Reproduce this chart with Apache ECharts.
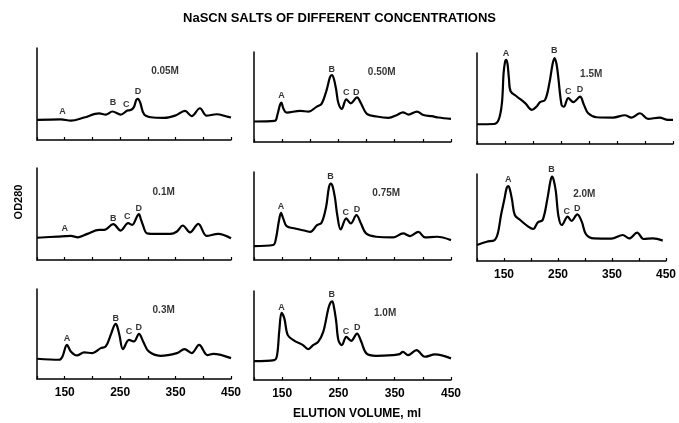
<!DOCTYPE html>
<html>
<head>
<meta charset="utf-8">
<script src="https://cdn.jsdelivr.net/npm/echarts@6/dist/echarts.min.js"></script>
<style>
  html, body { margin: 0; padding: 0; background: #fff; }
  #chart { width: 679px; height: 423px; }
</style>
</head>
<body>
<div id="chart"></div>
<script>
// elution volume (ml), OD280 in relative units (0-100 = height of the y axis)
const conc = ['0.05M', '0.50M', '1.5M', '0.1M', '0.75M', '2.0M', '0.3M', '1.0M']
const peakNames = ['A', 'B', 'C', 'D']
const xTicks = [150, 250, 350, 450]

const trace005 = [[100,21.8],[143,22.5],[161,21],[185,24.4],[212,29],[224,27.6],[236,31],[251,27.6],[263,32],[269,32.5],[275,36],[279,43.5],[282,44.7],[286,41],[293,28],[305,24.7],[329,24],[349,26.5],[367,31.6],[379,26],[394,34.5],[406,26.5],[424,28],[442,25.5],[450,24.4]]
const trace050 = [[100,22.8],[137,23.5],[141.5,30],[146,41],[148.6,43.8],[152,37.5],[158,32.7],[182,34.6],[197,33.8],[211.5,39.3],[220,42.3],[229,57.7],[235,72],[238.5,74.3],[242,70],[246,58],[250,43],[256,36.8],[264,47.4],[272,43],[283,49.6],[290,43],[300.5,31.3],[318,28.3],[339,26.8],[354,30],[364.5,33],[374.6,30.5],[389.5,33.8],[401,30],[416,28.7],[428,27.2],[450,25.7]]
const trace15 = [[100,21.7],[129.7,22],[138.6,26.5],[144.5,44.9],[147.5,78],[150,90],[152,92.6],[154.5,88],[157,72],[160,58],[171,52.2],[186,44.9],[198,37.5],[206,41],[212.7,46],[221.6,48.5],[229.3,67],[235,88],[238.5,94.5],[242,88],[245,74],[251,43],[255,41],[263,50.4],[272,46],[284,52],[291,43],[298.6,33.8],[313.6,29.4],[343,29],[364,31.6],[376,29],[391,33.8],[405.5,27.6],[426,29],[441,26.5],[450,26.5]]
const trace01 = [[100,24.2],[137,25.5],[161,26.2],[174,24.7],[191,28.4],[212,32.7],[221,32.7],[237.6,38.9],[251,32],[264.5,40],[271.7,38.2],[281,48],[284,49.8],[287,45],[291,38.2],[298.6,29],[316.6,28.4],[340.5,28.4],[352.5,31],[363,37.5],[376,30],[391,39.3],[406,26.2],[427,28.4],[450,23.6]]
const trace075 = [[100,15.8],[134,17],[139,24.5],[144,43.4],[148,53.6],[152,47],[158,38.5],[173,35.8],[191,33.2],[200,32],[212,39.6],[220,42.3],[228,60],[233,82],[236.5,86.8],[240,83],[244,70],[248,50.9],[254,34.7],[264,47.2],[272,41.5],[282,50.9],[290,41.5],[299,30.2],[317,26.4],[347,25.7],[365,30.2],[377,27.2],[392,32],[404,25.7],[425,26.4],[450,22.6]]
const trace20 = [[100,18.4],[118,22.2],[132.6,24.1],[138.6,31.8],[144.5,52.9],[150.4,70],[155,84],[158,86.2],[161,82],[165,70],[170,52.9],[180,47.1],[195,39.5],[204,36.8],[212.7,44.4],[221.6,47.1],[230.5,72],[236,92],[239,96.9],[242,93],[246,80],[251,51],[257,41.4],[268,51],[275,46],[285.7,53.6],[294,45.2],[301.7,31],[316.5,26],[349,25.7],[370,29.9],[381.8,26],[396.6,32.6],[408.5,25.3],[426,26],[444,23.4]]
const trace03 = [[100,22.5],[140,21.4],[146,25.1],[154,38],[161,30.6],[172,26.2],[185,29.5],[200,28.8],[215,34.3],[224,36.2],[233,49],[239,59],[242,61.3],[245,58],[249,48],[255,33.2],[266,43.5],[275,41.7],[284,50.2],[291.5,41.7],[301.6,30.6],[322.6,25.8],[352.5,28.8],[366,33.2],[379,28.8],[392.5,38],[407.5,26.6],[418,28],[450,23.2]]
const trace10 = [[100,21.3],[136,22.4],[141,28],[145,56],[149,75.4],[154,69],[160,50.4],[172,44],[187,39.2],[196,34.7],[205,39.2],[214,42.9],[223,54],[232,80],[236,87],[239,88.4],[242,82],[246,66],[250,44.8],[256,39.2],[264,48.5],[272.6,44],[283,52.2],[290.6,42.9],[299.7,29.9],[316.5,27.2],[346.6,28],[358.6,29.1],[364.6,31.7],[373.6,28],[388.7,33.6],[403.7,26.1],[421.7,28.7],[450,24.3]]

// where the peak letters A-D and the concentration label sit
const peaks005 = [[146,31],[237,41],[261,39],[282,52.7]]
const peaks050 = [[149,51.5],[238,80.9],[264,55],[281.5,55]]
const peaks15 = [[151.6,99],[238,102.6],[263,57.7],[284,59.6]]
const peaks01 = [[150,33.8],[237.6,45.5],[262.7,47.3],[283.7,56.4]]
const peaks075 = [[148,61],[236,95],[263,54],[283,57.4]]
const peaks20 = [[158,94],[238,104.6],[266,56.7],[285.7,59.8]]
const peaks03 = [[154,45.4],[242,67.5],[266,52.4],[283.7,57.2]]
const peaks10 = [[149,82],[238,96.3],[263.6,54.9],[283.4,59]]
const concPos = [[331,74.5],[327,77],[304,77],[328.5,73.8],[335,75.5],[298.7,77],[328.5,76],[333,75.4]]

const traces = [trace005, trace050, trace15, trace01, trace075, trace20, trace03, trace10]
const peaks = [peaks005, peaks050, peaks15, peaks01, peaks075, peaks20, peaks03, peaks10]

// panel boxes [left, top, width, height]
const boxes = [
  [37, 48, 194, 92], [254, 52, 197, 90], [477, 53, 196, 91],
  [37, 168, 194, 92], [254, 172, 197, 88], [477, 174, 196, 87],
  [37, 289, 194, 90], [254, 291, 197, 89]
]
const withLabels = [5, 6, 7]

const font = 'Liberation Sans'
const chart = echarts.init(document.getElementById('chart'))

const grid = [], xAxis = [], yAxis = [], series = []
boxes.forEach((b, i) => {
  grid.push({ left: b[0], top: b[1], width: b[2], height: b[3] })
  xAxis.push({
    type: 'value', gridIndex: i, min: 100, max: 450, interval: 50,
    axisLine: { onZero: false, lineStyle: { color: '#000', width: 1.5 } },
    axisTick: { inside: true, length: 3, lineStyle: { color: '#000', width: 1.2 } },
    splitLine: { show: false },
    axisLabel: {
      show: withLabels.includes(i), margin: 8,
      color: '#000', fontFamily: font, fontSize: 12, fontWeight: 'bold',
      formatter: v => (xTicks.includes(v) ? String(v) : '')
    }
  })
  yAxis.push({
    type: 'value', gridIndex: i, min: 0, max: 100,
    axisLine: { show: true, lineStyle: { color: '#000', width: 1.5 } },
    axisTick: { show: false }, axisLabel: { show: false }, splitLine: { show: false }
  })
  series.push({
    type: 'line', xAxisIndex: i, yAxisIndex: i, data: traces[i],
    smooth: 0.35, symbol: 'none', silent: true,
    lineStyle: { color: '#000', width: 2.2 }
  })
  const lbl = peaks[i].map((p, k) => ({ name: peakNames[k], value: p }))
  lbl.push({ name: conc[i], value: concPos[i], label: { fontSize: 10 } })
  series.push({
    type: 'scatter', xAxisIndex: i, yAxisIndex: i, data: lbl,
    symbolSize: 0, clip: false, silent: true,
    label: {
      show: true, position: 'inside', formatter: '{b}',
      color: '#000', fontFamily: font, fontSize: 9, fontWeight: 'bold'
    }
  })
})

chart.setOption({
  backgroundColor: '#fff',
  animation: false,
  title: {
    text: 'NaSCN SALTS OF DIFFERENT CONCENTRATIONS',
    left: 'center', top: 7,
    textStyle: { color: '#000', fontFamily: font, fontSize: 13, fontWeight: 'bold' }
  },
  graphic: [
    {
      type: 'text', x: 19, y: 202, rotation: Math.PI / 2, originX: 0, originY: 0,
      style: { text: 'OD280', fill: '#000', font: 'bold 11px ' + font, align: 'center', verticalAlign: 'middle' }
    },
    {
      type: 'text', x: 357, y: 414,
      style: { text: 'ELUTION VOLUME, ml', fill: '#000', font: 'bold 12px ' + font, align: 'center', verticalAlign: 'middle' }
    }
  ],
  grid, xAxis, yAxis, series
})
</script>
</body>
</html>
